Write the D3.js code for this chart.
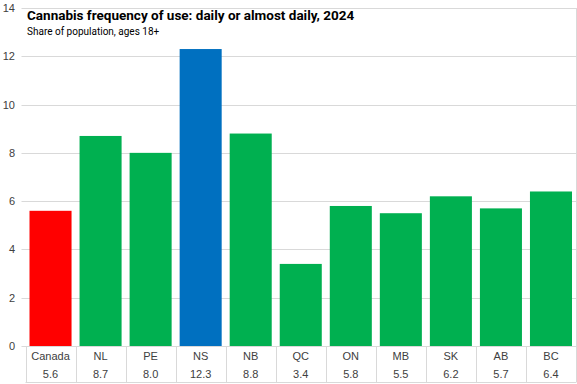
<!DOCTYPE html>
<html>
<head>
<meta charset="utf-8">
<script src="https://cdn.jsdelivr.net/npm/d3@7"></script>
<style>
  body { margin: 0; background: #fff; }
  svg { display: block; }
</style>
</head>
<body>
<div id="chart"></div>
<script>
const regions = ["Canada", "NL", "PE", "NS", "NB", "QC", "ON", "MB", "SK", "AB", "BC"];
const daily = [5.6, 8.7, 8.0, 12.3, 8.8, 3.4, 5.8, 5.5, 6.2, 5.7, 6.4];
const yTicks = [0, 2, 4, 6, 8, 10, 12, 14];

const width = 577,
    height = 384,
    margin = ({ top: 8, right: 1, bottom: 38, left: 25.5 });

const barColor = d => d === "Canada" ? "#ff0000" : d === "NS" ? "#0070c0" : "#00b050";

let svg = d3.select("#chart")
    .append("svg")
    .attr("width", width)
    .attr("height", height);

const x = d3.scaleBand()
    .domain(regions)
    .range([margin.left, width - margin.right])
    .paddingInner(0.16)
    .paddingOuter(0.08);

const y = d3.scaleLinear()
    .domain([0, 14])
    .range([height - margin.bottom, margin.top]);

// gridlines
svg.append("g")
    .selectAll("line")
    .data(yTicks)
    .join("line")
    .attr("x1", margin.left - 4)
    .attr("x2", width - margin.right)
    .attr("y1", d => Math.round(y(d)) + 0.5)
    .attr("y2", d => Math.round(y(d)) + 0.5)
    .attr("stroke", "#d9d9d9");

// y tick labels
svg.append("g")
    .selectAll("text")
    .data(yTicks)
    .join("text")
    .attr("x", 15)
    .attr("y", d => y(d) + 4)
    .attr("text-anchor", "end")
    .style("font-family", "Liberation Sans, Arial, sans-serif")
    .style("font-size", "11px")
    .style("fill", "#404040")
    .text(d => d);

// bars
svg.append("g")
    .selectAll("rect")
    .data(regions)
    .join("rect")
    .attr("x", d => x(d))
    .attr("width", x.bandwidth())
    .attr("y", (d, i) => y(daily[i]))
    .attr("height", (d, i) => y(0) - y(daily[i]))
    .attr("fill", barColor);

// data table under the bars
const step = x.step();
const x0 = margin.left;
const bounds = d3.range(regions.length + 1).map(i => x0 + i * step);
const tableTop = y(0), tableBottom = height - 1.5;

svg.append("g")
    .selectAll("line")
    .data(bounds)
    .join("line")
    .attr("x1", d => Math.round(d) + 0.5)
    .attr("x2", d => Math.round(d) + 0.5)
    .attr("y1", (d, i) => i === regions.length ? margin.top : tableTop)
    .attr("y2", tableBottom)
    .attr("stroke", "#d9d9d9");

svg.append("line")
    .attr("x1", x0)
    .attr("x2", width - margin.right)
    .attr("y1", tableBottom)
    .attr("y2", tableBottom)
    .attr("stroke", "#d9d9d9");

const cell = svg.append("g")
    .selectAll("g")
    .data(regions)
    .join("g")
    .style("font-family", "Liberation Sans, Arial, sans-serif")
    .style("font-size", "11px")
    .style("fill", "#404040")
    .attr("text-anchor", "middle");

cell.append("text")
    .attr("x", (d, i) => x0 + (i + 0.5) * step)
    .attr("y", tableTop + 14)
    .text(d => d);

cell.append("text")
    .attr("x", (d, i) => x0 + (i + 0.5) * step)
    .attr("y", tableTop + 32)
    .text((d, i) => daily[i].toFixed(1));

// title
svg.append("text")
    .attr("x", 27)
    .attr("y", 20)
    .style("font-family", "Roboto, sans-serif")
    .style("font-size", "13.5px")
    .style("font-weight", "bold")
    .style("fill", "#000")
    .text("Cannabis frequency of use: daily or almost daily, 2024");

svg.append("text")
    .attr("x", 27)
    .attr("y", 35)
    .style("font-family", "Roboto, sans-serif")
    .style("font-size", "10px")
    .style("fill", "#000")
    .text("Share of population, ages 18+");
</script>
</body>
</html>
